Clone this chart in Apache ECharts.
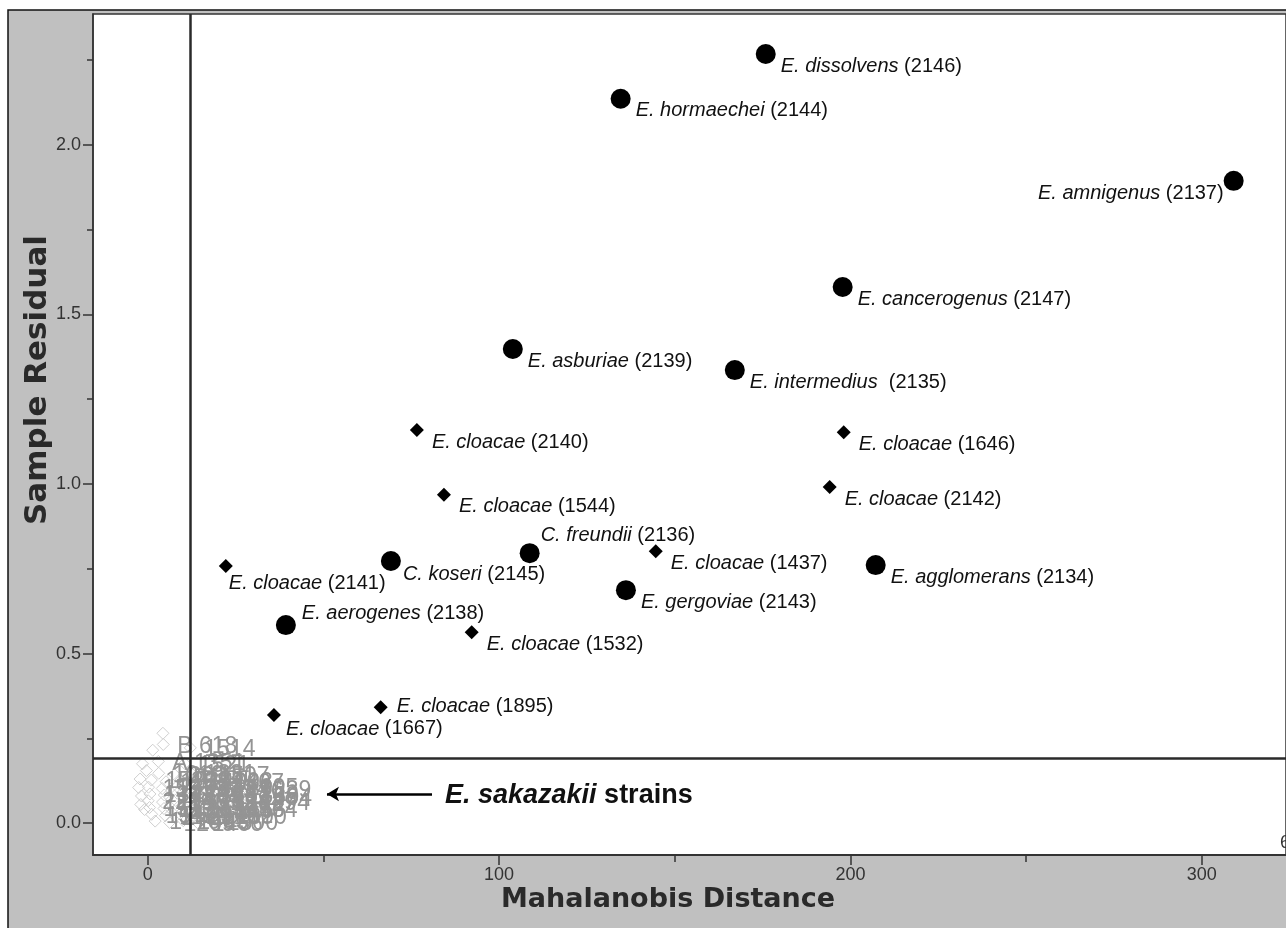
<!DOCTYPE html>
<html>
<head>
<meta charset="utf-8">
<script src="https://cdn.jsdelivr.net/npm/echarts@6/dist/echarts.min.js"></script>
<style>
  html, body { margin: 0; background: #fff; }
  #chart { width: 1286px; height: 928px; }
</style>
</head>
<body>
<div id="chart"></div>
<script>
const xMajorTicks = [0, 100, 200, 300]
const xMinorTicks = [50, 150, 250]
const yMajorTicks = [0, 0.5, 1.0, 1.5, 2.0]
const yMinorTicks = [0.25, 0.75, 1.25, 1.75, 2.25]

// [distance, residual, species, strain]
const otherSpecies = [
  [175.9, 2.268, 'E. dissolvens', '2146'],
  [134.6, 2.136, 'E. hormaechei', '2144'],
  [309.1, 1.894, 'E. amnigenus', '2137'],
  [197.8, 1.581, 'E. cancerogenus', '2147'],
  [103.9, 1.398, 'E. asburiae', '2139'],
  [167.1, 1.336, 'E. intermedius ', '2135'],
  [108.7, 0.796, 'C. freundii', '2136'],
  [69.2, 0.773, 'C. koseri', '2145'],
  [136.1, 0.687, 'E. gergoviae', '2143'],
  [207.2, 0.761, 'E. agglomerans', '2134'],
  [39.3, 0.584, 'E. aerogenes', '2138']
]

const cloacaeStrains = [
  [76.6, 1.159, 'E. cloacae', '2140'],
  [84.3, 0.968, 'E. cloacae', '1544'],
  [198.1, 1.153, 'E. cloacae', '1646'],
  [194.1, 0.991, 'E. cloacae', '2142'],
  [144.6, 0.802, 'E. cloacae', '1437'],
  [22.2, 0.758, 'E. cloacae', '2141'],
  [92.2, 0.563, 'E. cloacae', '1532'],
  [66.3, 0.342, 'E. cloacae', '1895'],
  [35.9, 0.319, 'E. cloacae', '1667']
]

// [distance, residual, strain label]
const sakazakiiStrains = [
  [4.3, 0.265, ''], [1.4, 0.215, ''], [-1.5, 0.175, ''], [-2.2, 0.13, ''], [-1.8, 0.08, ''], [-0.9, 0.04, ''],
  [-2.6, 0.105, ''], [-0.4, 0.155, ''], [-2.0, 0.055, ''],
  [4.4, 0.232, 'B 618'], [12.1, 0.222, '1514'], [3.0, 0.182, 'A 1351'], [10.5, 0.176, '1521'],
  [3.1, 0.147, '1019'], [7.6, 0.143, '2031'], [12.2, 0.149, '1331'], [16.1, 0.142, '1507'],
  [1.0, 0.127, '1520'], [5.2, 0.122, '1182'], [9.1, 0.128, '2254'], [13.3, 0.121, '1468'], [17.0, 0.126, '1003'], [20.2, 0.123, '1407'],
  [0.2, 0.106, '1565'], [4.1, 0.102, '1339'], [8.3, 0.108, '2087'], [12.0, 0.101, '1229'], [16.2, 0.105, '1474'], [20.1, 0.100, '1216'], [24.3, 0.107, '1095'], [28.0, 0.103, '1339'],
  [0.6, 0.086, '1311'], [4.7, 0.083, '1460'], [8.4, 0.088, '2259'], [12.6, 0.081, '1388'], [16.4, 0.087, '1557'], [20.7, 0.080, '1236'], [24.4, 0.085, '1358'], [28.2, 0.079, '1494'],
  [0.1, 0.066, '2294'], [4.2, 0.062, '1193'], [7.9, 0.067, '1409'], [12.1, 0.063, '1512'], [16.3, 0.068, '1328'], [20.2, 0.061, '1282'], [23.8, 0.066, '1447'], [27.6, 0.064, '1294'],
  [0.5, 0.046, '1527'], [4.6, 0.043, '1108'], [8.7, 0.048, '1285'], [12.4, 0.041, '2270'], [16.6, 0.047, '1301'], [20.4, 0.044, '1446'], [24.1, 0.042, '1534'],
  [1.1, 0.026, '1542'], [5.0, 0.022, '1173'], [9.2, 0.027, '1397'], [13.1, 0.021, '2216'], [17.2, 0.025, '1452'], [21.0, 0.023, '1390'],
  [2.1, 0.006, '1470'], [6.2, 0.002, '1209'], [10.1, 0.007, '1483'], [14.2, 0.001, '1466'], [18.5, 0.004, '2300']
]

const cutoffDistance = 12
const cutoffResidual = 0.19
const arrowFrom = [80.9, 0.086]
const arrowTo = [51.0, 0.086]

// where a label sits relative to its marker, by strain
const labelSpot = {
  '2137': { align: 'right', offset: [-10, 13] },
  '2136': { offset: [11, -18] },
  '2138': { offset: [16, -12] },
  '2141': { offset: [3, 17] },
  '1895': { offset: [16, -1] },
  '2145': { offset: [12, 13] },
  '1667': { offset: [12, 14] }
}

const font = '"Liberation Sans", Arial, sans-serif'

const toPoints = (rows) => rows.map((r) => {
  const spot = labelSpot[r[3]] || {}
  return {
    value: [r[0], r[1]],
    name: r[2],
    strain: r[3],
    label: {
      align: spot.align || 'left',
      offset: spot.offset || [15, 12]
    }
  }
})

const speciesLabel = {
  show: true,
  position: 'inside',
  verticalAlign: 'middle',
  fontFamily: font,
  fontSize: 20,
  color: '#111',
  formatter: (p) => `{i|${p.data.name}} (${p.data.strain})`,
  rich: { i: { fontStyle: 'italic', fontFamily: font, fontSize: 20, color: '#111' } }
}

const chart = echarts.init(document.getElementById('chart'))

const xBase = { type: 'value', min: -15.6, max: 324, splitLine: { show: false } }
const yBase = { type: 'value', min: -0.094, max: 2.386, splitLine: { show: false } }
const tickStyle = { color: '#333', width: 1.5 }

chart.setOption({
  backgroundColor: '#fff',
  animation: false,
  graphic: [
    {
      type: 'rect', z: -10, silent: true,
      shape: { x: 8, y: 10, width: 1300, height: 940 },
      style: { fill: '#c0c0c0', stroke: '#111', lineWidth: 1.5 }
    },
    {
      type: 'text', x: 668, y: 900,
      style: {
        text: 'Mahalanobis Distance', font: 'bold 27px "DejaVu Sans", sans-serif', fill: '#2a2a2a',
        align: 'center', verticalAlign: 'middle'
      }
    },
    {
      type: 'text', x: 38, y: 380, rotation: Math.PI / 2,
      style: {
        text: 'Sample Residual', font: 'bold 31px "DejaVu Sans", sans-serif', fill: '#2a2a2a',
        align: 'center', verticalAlign: 'middle'
      }
    },
    {
      type: 'text', x: 445, y: 796,
      style: {
        text: '{i|E. sakazakii} strains',
        font: 'bold 27px "Liberation Sans", Arial, sans-serif',
        fill: '#111',
        verticalAlign: 'middle',
        rich: { i: { fontStyle: 'italic', fontWeight: 'bold', fontSize: 27, fontFamily: font, fill: '#111' } }
      }
    },
    {
      type: 'text', x: 1280, y: 843,
      style: { text: '6', font: '18px "Liberation Sans", Arial, sans-serif', fill: '#333', verticalAlign: 'middle' }
    }
  ],
  grid: {
    left: 93, top: 14, right: 0, bottom: 73,
    show: true, backgroundColor: '#fff', borderColor: '#333', borderWidth: 1.5
  },
  xAxis: [
    {
      ...xBase,
      axisLine: { show: true, onZero: false, lineStyle: { color: '#333', width: 2 } },
      axisTick: { show: true, length: 10, customValues: xMajorTicks, lineStyle: tickStyle },
      axisLabel: {
        customValues: xMajorTicks, margin: 11, color: '#333', fontFamily: font, fontSize: 18,
        formatter: (v) => String(Math.round(v))
      }
    },
    {
      ...xBase, position: 'bottom',
      axisLine: { show: false, onZero: false },
      axisTick: { show: true, length: 7, customValues: xMinorTicks, lineStyle: tickStyle },
      axisLabel: { show: false }
    }
  ],
  yAxis: [
    {
      ...yBase,
      axisLine: { show: true, onZero: false, lineStyle: { color: '#333', width: 1.5 } },
      axisTick: { show: true, length: 10, customValues: yMajorTicks, lineStyle: tickStyle },
      axisLabel: {
        customValues: yMajorTicks, margin: 12, color: '#333', fontFamily: font, fontSize: 18,
        formatter: (v) => v.toFixed(1)
      }
    },
    {
      ...yBase, position: 'left',
      axisLine: { show: false, onZero: false },
      axisTick: { show: true, length: 6, customValues: yMinorTicks, lineStyle: tickStyle },
      axisLabel: { show: false }
    }
  ],
  series: [
    {
      name: 'cutoffs',
      type: 'scatter',
      data: [],
      z: 1,
      markLine: {
        silent: true,
        symbol: 'none',
        label: { show: false },
        lineStyle: { color: '#2a2a2a', width: 2.5, type: 'solid' },
        data: [
          { xAxis: cutoffDistance },
          { yAxis: cutoffResidual }
        ]
      }
    },
    {
      name: 'E. sakazakii',
      type: 'scatter',
      z: 3,
      symbol: 'diamond',
      symbolSize: 12,
      itemStyle: { color: 'rgba(255,255,255,0)', borderColor: '#cfcfcf', borderWidth: 1, opacity: 1 },
      label: {
        show: true,
        position: 'inside',
        align: 'left',
        verticalAlign: 'middle',
        offset: [14, 2],
        fontFamily: font,
        fontSize: 23,
        color: '#949494',
        formatter: (p) => p.data[2]
      },
      data: sakazakiiStrains,
      markLine: {
        silent: true,
        symbol: 'none',
        label: { show: false },
        lineStyle: { color: '#000', width: 2.5, type: 'solid' },
        data: [
          [
            { coord: arrowFrom, symbol: 'none' },
            { coord: arrowTo, symbol: 'arrow', symbolSize: [11, 12] }
          ]
        ]
      }
    },
    {
      name: 'E. cloacae',
      type: 'scatter',
      z: 4,
      symbol: 'diamond',
      symbolSize: 14,
      itemStyle: { color: '#000', opacity: 1 },
      label: speciesLabel,
      data: toPoints(cloacaeStrains)
    },
    {
      name: 'other species',
      type: 'scatter',
      z: 4,
      symbol: 'circle',
      symbolSize: 20,
      itemStyle: { color: '#000', opacity: 1 },
      label: speciesLabel,
      data: toPoints(otherSpecies)
    }
  ]
})
</script>
</body>
</html>
